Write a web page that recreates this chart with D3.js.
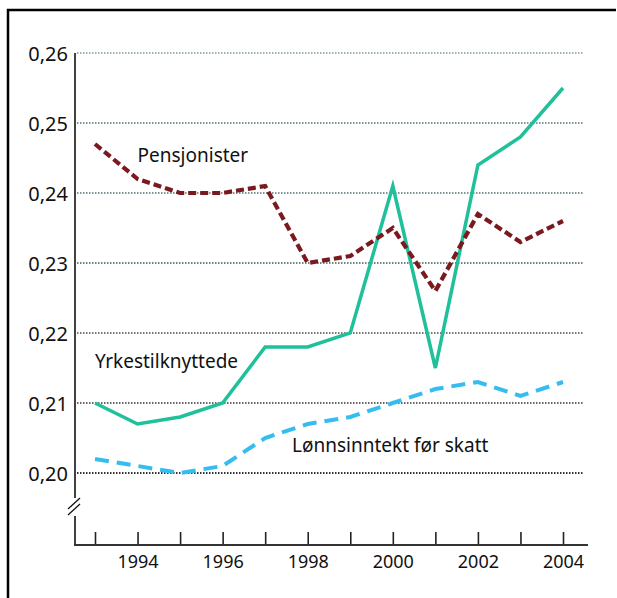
<!DOCTYPE html>
<html>
  <head>
    <title>chart</title>
    <meta http-equiv="Content-Type" content="text/html; charset=UTF-8">
    <script src="https://d3js.org/d3.v7.min.js"></script>
    <style>
      body { margin: 0; background: #fff; }
      svg text { font-family: "Noto Sans", sans-serif; fill: #111; }
    </style>
  </head>

  <body>

    <div id="chart">
    </div>

    <script>
      var years = [1993, 1994, 1995, 1996, 1997, 1998, 1999, 2000, 2001, 2002, 2003, 2004];
      var pensjonister = [0.247, 0.242, 0.240, 0.240, 0.241, 0.230, 0.231, 0.235, 0.226, 0.237, 0.233, 0.236];
      var yrkestilknyttede = [0.210, 0.207, 0.208, 0.210, 0.218, 0.218, 0.220, 0.241, 0.215, 0.244, 0.248, 0.255];
      var lonnsinntekt = [0.202, 0.201, 0.200, 0.201, 0.205, 0.207, 0.208, 0.210, 0.212, 0.213, 0.211, 0.213];
      var yTicks = [0.20, 0.21, 0.22, 0.23, 0.24, 0.25, 0.26];
      var xLabelYears = [1994, 1996, 1998, 2000, 2002, 2004];

      var svg = d3.select("#chart").append("svg").attr("width", 617).attr("height", 598)

      // frame (left and top only)
      svg.append("path").attr("d", "M8,598V10H616").attr("fill", "none").attr("stroke", "#000").attr("stroke-width", 2.5)

      var x = d3.scaleLinear().domain([1993, 2004]).range([95, 563]);
      var y = d3.scaleLinear().domain([0.20, 0.26]).range([473, 53]);
      var axisY = 545, axisX = 75;

      var comma = d3.formatLocale({decimal: ",", thousands: " ", grouping: [3], currency: ["", ""]}).format(".2f");

      // grid
      var gridColor = {"0.2": "#333", "0.21": "#666", "0.22": "#777", "0.23": "#6f8284", "0.24": "#7c9598", "0.25": "#7c9598", "0.26": "#9db2b6"};
      svg.append("g").selectAll("line").data(yTicks).join("line")
        .attr("x1", 77).attr("x2", 584)
        .attr("y1", function(d) { return y(d); }).attr("y2", function(d) { return y(d); })
        .attr("stroke", function(d) { return gridColor[String(+d.toFixed(2))]; })
        .attr("stroke-width", 2)
        .attr("stroke-dasharray", "1.5,1.5")

      // y axis
      var gy = svg.append("g").attr("transform", "translate(" + axisX + ",0)")
        .call(d3.axisLeft(y).tickValues(yTicks).tickSize(0).tickPadding(7).tickFormat(comma))
      gy.select(".domain").remove();
      gy.selectAll("text").style("font-size", "20px").attr("dy", "0.36em");
      svg.append("line").attr("x1", axisX).attr("x2", axisX).attr("y1", y(0.26)).attr("y2", 498)
        .attr("stroke", "#111").attr("stroke-width", 1.6)
      svg.append("line").attr("x1", axisX).attr("x2", axisX).attr("y1", 516).attr("y2", axisY)
        .attr("stroke", "#111").attr("stroke-width", 1.6)
      // break marks
      svg.append("line").attr("x1", 68).attr("y1", 509).attr("x2", 80).attr("y2", 498).attr("stroke", "#111").attr("stroke-width", 1.3)
      svg.append("line").attr("x1", 68).attr("y1", 515).attr("x2", 80).attr("y2", 504).attr("stroke", "#111").attr("stroke-width", 1.3)

      // x axis
      var gx = svg.append("g").attr("transform", "translate(0," + axisY + ")")
        .call(d3.axisBottom(x).tickValues(years).tickSize(-13).tickPadding(10)
          .tickFormat(function(d) { return xLabelYears.indexOf(d) >= 0 ? d : ""; }))
      gx.select(".domain").remove();
      gx.selectAll(".tick line").attr("stroke", "#222").attr("stroke-width", 1.6);
      gx.selectAll("text").style("font-size", "18px");
      svg.append("line").attr("x1", axisX - 1).attr("x2", 588).attr("y1", axisY).attr("y2", axisY)
        .attr("stroke", "#333").attr("stroke-width", 2)

      // lines
      var line = d3.line().x(function(d, i) { return x(years[i]); }).y(function(d) { return y(d); });

      svg.append("path").datum(lonnsinntekt).attr("d", line).attr("fill", "none")
        .attr("stroke", "#35bdf0").attr("stroke-width", 4).attr("stroke-dasharray", "14,8")
      svg.append("path").datum(yrkestilknyttede).attr("d", line).attr("fill", "none")
        .attr("stroke", "#1fc09a").attr("stroke-width", 3.5).attr("stroke-linejoin", "miter")
      svg.append("path").datum(pensjonister).attr("d", line).attr("fill", "none")
        .attr("stroke", "#7a1a1e").attr("stroke-width", 4.2).attr("stroke-dasharray", "8,4")

      // series labels
      svg.append("text").attr("x", x(1994)).attr("y", y(0.2444)).style("font-size", "19px").text("Pensjonister")
      svg.append("text").attr("x", x(1993)).attr("y", y(0.2150)).style("font-size", "19px").text("Yrkestilknyttede")
      svg.append("text").attr("x", x(1997.63)).attr("y", y(0.2030)).style("font-size", "19px").text("Lønnsinntekt før skatt")
    </script>
  </body>
</html>
